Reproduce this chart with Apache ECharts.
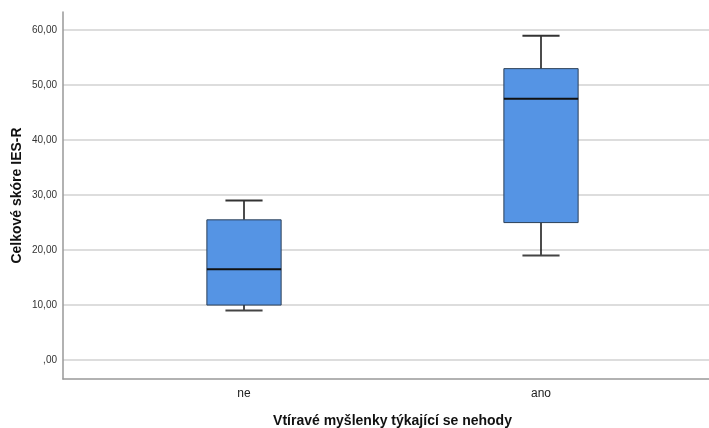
<!DOCTYPE html>
<html><head><meta charset="utf-8">
<script src="https://cdn.jsdelivr.net/npm/echarts@6/dist/echarts.min.js"></script>
<style>html,body{margin:0;padding:0;background:#fff}#c{width:709px;height:428px}</style>
</head><body><div id="c"></div>
<script>
const categories = ['ne', 'ano'];
const whiskerLow = [9, 19];
const q1 = [10, 25];
const median = [16.5, 47.5];
const q3 = [25.5, 53];
const whiskerHigh = [29, 59];
const yTicks = [0, 10, 20, 30, 40, 50, 60];
const yTitle = 'Celkové skóre IES-R';
const xTitle = 'Vtíravé myšlenky týkající se nehody';

const FONT = 'Liberation Sans, Arial, sans-serif';
const boxData = categories.map((c, i) => [i, whiskerLow[i], q1[i], median[i], q3[i], whiskerHigh[i]]);

function renderBox(params, api) {
  const idx = api.value(0);
  const band = api.size([1, 0])[0];
  const hw = band * 0.125;
  const cw = band * 0.0625;
  const pLow = api.coord([idx, api.value(1)]);
  const pQ1 = api.coord([idx, api.value(2)]);
  const pMed = api.coord([idx, api.value(3)]);
  const pQ3 = api.coord([idx, api.value(4)]);
  const pHigh = api.coord([idx, api.value(5)]);
  const x = pMed[0];
  const lineStyle = { stroke: '#111', lineWidth: 1.5 };
  return {
    type: 'group',
    children: [
      { type: 'line', shape: { x1: x, y1: pHigh[1], x2: x, y2: pQ3[1] }, style: lineStyle },
      { type: 'line', shape: { x1: x, y1: pLow[1], x2: x, y2: pQ1[1] }, style: lineStyle },
      { type: 'line', shape: { x1: x - cw, y1: pHigh[1], x2: x + cw, y2: pHigh[1] }, style: { stroke: '#333', lineWidth: 2 } },
      { type: 'line', shape: { x1: x - cw, y1: pLow[1], x2: x + cw, y2: pLow[1] }, style: { stroke: '#444', lineWidth: 2 } },
      { type: 'rect', shape: { x: x - hw, y: pQ3[1], width: hw * 2, height: pQ1[1] - pQ3[1] },
        style: { fill: '#5594e4', stroke: '#2b3f57', lineWidth: 1 } },
      { type: 'line', shape: { x1: x - hw, y1: pMed[1], x2: x + hw, y2: pMed[1] }, style: { stroke: '#111', lineWidth: 2 } }
    ]
  };
}

const chart = echarts.init(document.getElementById('c'), null, { renderer: 'canvas' });
chart.setOption({
  animation: false,
  backgroundColor: '#fff',
  textStyle: { fontFamily: FONT },
  grid: [
    { left: 63, right: 0, top: 12, bottom: 49, containLabel: false, outerBoundsMode: 'none' },
    { left: 95.5, right: 19.5, top: 12, bottom: 49, containLabel: false, outerBoundsMode: 'none' }
  ],
  xAxis: [
    { gridIndex: 0, type: 'value', min: 0, max: 1,
      axisLine: { show: true, onZero: false, lineStyle: { color: '#999', width: 1.5 } },
      axisTick: { show: false }, axisLabel: { show: false }, splitLine: { show: false } },
    { gridIndex: 1, type: 'category', data: categories,
      axisLine: { show: false, onZero: false }, axisTick: { show: false }, splitLine: { show: false },
      axisLabel: { fontSize: 12, color: '#222', margin: 9, fontFamily: FONT },
      name: xTitle, nameLocation: 'middle', nameGap: 35, nameMoveOverlap: false,
      nameTextStyle: { fontSize: 14, fontWeight: 'bold', color: '#111', fontFamily: FONT } }
  ],
  yAxis: [
    { gridIndex: 0, type: 'value', min: -3.45, max: 63.3,
      axisLine: { show: true, onZero: false, lineStyle: { color: '#999', width: 1.5 } },
      axisTick: { show: false, customValues: yTicks },
      axisLabel: { customValues: yTicks, fontSize: 10, color: '#333', margin: 6, fontFamily: FONT,
        formatter: v => v === 0 ? ',00' : v.toFixed(2).replace('.', ',') },
      splitLine: { show: true, lineStyle: { color: '#d2d2d2', width: 1.5 } },
      name: yTitle, nameLocation: 'middle', nameGap: 39, nameMoveOverlap: false,
      nameTextStyle: { fontSize: 14, fontWeight: 'bold', color: '#111', fontFamily: FONT } },
    { gridIndex: 1, type: 'value', min: -3.45, max: 63.3, show: false, splitLine: { show: false } }
  ],
  series: [{
    type: 'custom', xAxisIndex: 1, yAxisIndex: 1,
    renderItem: renderBox,
    encode: { x: 0, y: [1, 2, 3, 4, 5] },
    data: boxData
  }]
});
</script></body></html>
